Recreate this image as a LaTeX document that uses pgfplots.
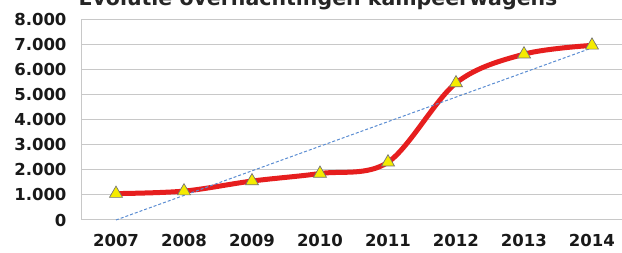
\documentclass[border=0pt]{standalone}
\usepackage{pgfplots}
\pgfplotsset{compat=1.18}
\usepackage{fontspec}
\setmainfont{DejaVu Sans}
\definecolor{gridgray}{RGB}{200,200,200}
\definecolor{linered}{RGB}{230,30,30}
\definecolor{triyellow}{RGB}{245,235,0}
\definecolor{trendblue}{RGB}{90,140,210}
\begin{document}
\begin{tikzpicture}
\useasboundingbox (-82pt,-33pt) rectangle (540pt,220pt);
\clip (-82pt,-33pt) rectangle (540pt,220pt);
\begin{axis}[
  at={(0pt,0pt)}, anchor=south west,
  scale only axis, width=544pt, height=201pt,
  xmin=2006.5, xmax=2014.5, ymin=0, ymax=8000,
  xtick={2007,...,2014}, ytick={0,1000,...,8000},
  xticklabel style={/pgf/number format/1000 sep={}},
  yticklabel style={/pgf/number format/1000 sep={.}},
  /pgf/number format/assume math mode=true,
  ticklabel style={font=\fontsize{16.5}{16.5}\selectfont\bfseries, text=black!90},
  xticklabel style={yshift=-11pt},
  yticklabel style={xshift=-12pt},
  major tick length=0pt,
  ymajorgrids, grid style={gridgray, line width=1pt},
  axis line style={gridgray, line width=1pt},
  axis x line*=bottom, axis y line*=left,
  clip=false,
]
\addplot[linered, line width=5pt, smooth, tension=0.55,
  mark=triangle*, mark size=7.5pt,
  mark options={fill=triyellow, draw=black!55, line width=0.7pt, solid}]
coordinates {(2007,1050) (2008,1150) (2009,1550) (2010,1850) (2011,2300) (2012,5450) (2013,6600) (2014,6950)};
\addplot[trendblue, densely dashed, line width=1pt] coordinates {(2007,0) (2014,6850)};
\end{axis}
\node[anchor=base, font=\fontsize{20.5}{20.5}\selectfont\bfseries, text=black!85] at (236pt,214pt) {Evolutie overnachtingen kampeerwagens};
\end{tikzpicture}
\end{document}
